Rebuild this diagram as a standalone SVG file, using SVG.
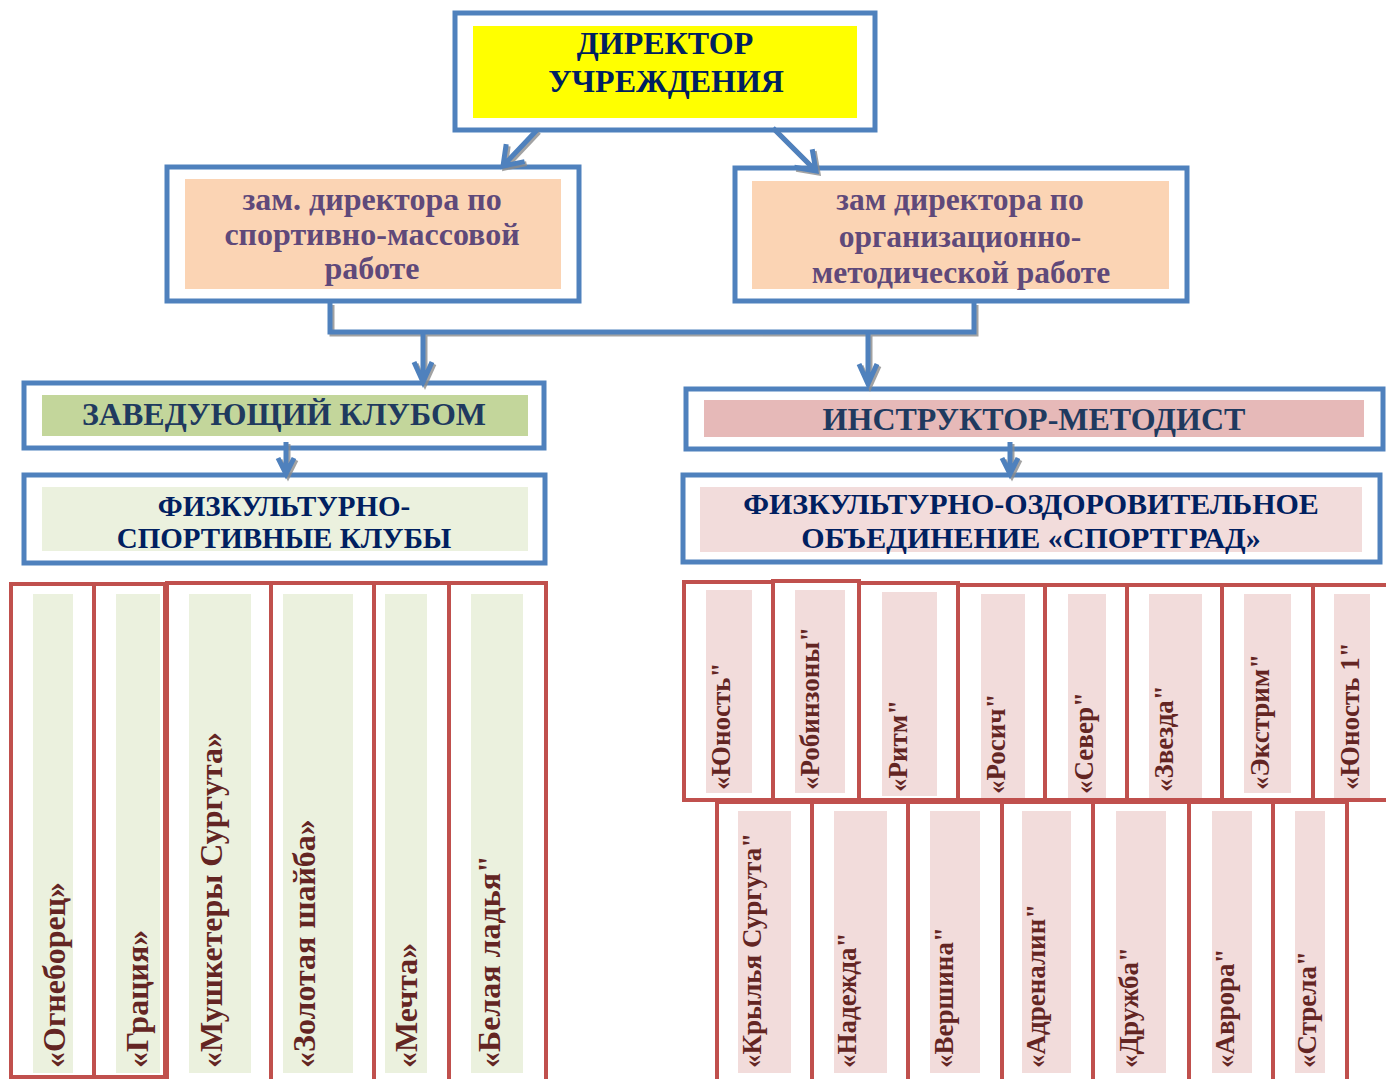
<svg xmlns="http://www.w3.org/2000/svg" width="1386" height="1079" viewBox="0 0 1386 1079">
<style>
.bx{fill:#fff;stroke:#4f81bd;stroke-width:5}
.col{fill:#fff;stroke:#c0504d;stroke-width:4}
.gin{fill:#ebf1de}
.pin{fill:#f2dcdb}
.t{font-family:"Liberation Serif","Times New Roman",serif;font-weight:bold;text-anchor:middle}
.ct{font-family:"Liberation Serif","Times New Roman",serif;font-weight:bold;fill:#632523}
.cl{font-size:32px}
.cr{font-size:27px}
.conn{fill:none;stroke:#4f81bd;stroke-width:5;stroke-linejoin:miter}
.sh{fill:none;stroke:#8c8c8c;stroke-width:5;opacity:0.8}
</style>
<rect width="1386" height="1079" fill="#fff"/>

<g id="director">
  <rect class="bx" x="455" y="13" width="420" height="117"/>
  <rect x="473" y="26" width="384" height="92" fill="#ffff00"/>
  <text class="t" x="665" y="54" font-size="32" fill="#002060">ДИРЕКТОР</text>
  <text class="t" x="666" y="92" font-size="32" fill="#002060">УЧРЕЖДЕНИЯ</text>
</g>

<g id="zam-sport">
  <rect class="bx" x="167" y="167" width="412" height="134"/>
  <rect x="185" y="179" width="376" height="110" fill="#fbd4b4"/>
  <text class="t" x="372" y="210" font-size="32" fill="#5f497a">зам. директора по</text>
  <text class="t" x="372" y="245" font-size="32" fill="#5f497a">спортивно-массовой</text>
  <text class="t" x="372" y="279" font-size="32" fill="#5f497a">работе</text>
</g>

<g id="zam-method">
  <rect class="bx" x="735" y="168" width="452" height="133"/>
  <rect x="752" y="181" width="417" height="108" fill="#fbd4b4"/>
  <text class="t" x="960" y="210" font-size="31.5" fill="#5f497a">зам директора по</text>
  <text class="t" x="960" y="247" font-size="31.5" fill="#5f497a">организационно-</text>
  <text class="t" x="961" y="283" font-size="31.5" fill="#5f497a">методической работе</text>
</g>

<g id="zav-club">
  <rect class="bx" x="24" y="383" width="520" height="65"/>
  <rect x="42" y="395" width="486" height="41" fill="#c3d69b"/>
  <text class="t" x="284" y="425" font-size="32" fill="#1f3a5f">ЗАВЕДУЮЩИЙ КЛУБОМ</text>
</g>

<g id="fiz-sport">
  <rect class="bx" x="24" y="475" width="521" height="88"/>
  <rect x="42" y="487" width="486" height="64" fill="#ebf1de"/>
  <text class="t" x="284" y="516" font-size="29" fill="#002060">ФИЗКУЛЬТУРНО-</text>
  <text class="t" x="284" y="548" font-size="29" fill="#002060">СПОРТИВНЫЕ КЛУБЫ</text>
</g>

<g id="instructor">
  <rect class="bx" x="686" y="389" width="697" height="60"/>
  <rect x="704" y="400" width="660" height="37" fill="#e6b9b8"/>
  <text class="t" x="1034" y="430" font-size="32" fill="#1f3a5f">ИНСТРУКТОР-МЕТОДИСТ</text>
</g>

<g id="sportgrad">
  <rect class="bx" x="683" y="475" width="697" height="87"/>
  <rect x="700" y="487" width="662" height="65" fill="#f2dcdb"/>
  <text class="t" x="1031" y="514" font-size="30" fill="#002060">ФИЗКУЛЬТУРНО-ОЗДОРОВИТЕЛЬНОЕ</text>
  <text class="t" x="1031" y="548" font-size="30" fill="#002060">ОБЪЕДИНЕНИЕ «СПОРТГРАД»</text>
</g>

<!-- left clubs -->
<g id="club-ogneborec">
  <rect class="col" x="11" y="584" width="83" height="493"/>
  <rect class="gin" x="33" y="594" width="40" height="479"/>
  <text class="ct cl" transform="translate(65,1068) rotate(-90)">«Огнеборец»</text>
</g>
<g id="club-gracia">
  <rect class="col" x="94" y="584" width="71" height="493"/>
  <rect class="gin" x="116" y="594" width="44" height="479"/>
  <text class="ct cl" transform="translate(148,1068) rotate(-90)">«Грация»</text>
</g>
<g id="club-mushketery">
  <rect class="col" x="167" y="583" width="104" height="510"/>
  <rect class="gin" x="189" y="594" width="62" height="479"/>
  <text class="ct cl" transform="translate(222,1068) rotate(-90)">«Мушкетеры Сургута»</text>
</g>
<g id="club-shaiba">
  <rect class="col" x="271" y="583" width="103" height="510"/>
  <rect class="gin" x="283" y="594" width="70" height="479"/>
  <text class="ct cl" transform="translate(315,1068) rotate(-90)">«Золотая шайба»</text>
</g>
<g id="club-mechta">
  <rect class="col" x="374" y="583" width="75" height="510"/>
  <rect class="gin" x="385" y="594" width="42" height="479"/>
  <text class="ct cl" transform="translate(417,1068) rotate(-90)">«Мечта»</text>
</g>
<g id="club-ladya">
  <rect class="col" x="449" y="583" width="97" height="510"/>
  <rect class="gin" x="471" y="594" width="52" height="479"/>
  <text class="ct cl" transform="translate(500,1068) rotate(-90)">«Белая ладья"</text>
</g>

<!-- right top row -->
<g id="s-yunost">
  <rect class="col" x="684" y="582" width="89" height="218"/>
  <rect class="pin" x="706" y="590" width="46" height="203"/>
  <text class="ct cr" transform="translate(730,790) rotate(-90)">«Юность"</text>
</g>
<g id="s-robinzony">
  <rect class="col" x="773" y="581" width="86" height="219"/>
  <rect class="pin" x="795" y="590" width="50" height="203"/>
  <text class="ct cr" transform="translate(819,790) rotate(-90)">«Робинзоны"</text>
</g>
<g id="s-ritm">
  <rect class="col" x="859" y="583" width="99" height="217"/>
  <rect class="pin" x="882" y="592" width="55" height="204"/>
  <text class="ct cr" transform="translate(907,792) rotate(-90)">«Ритм"</text>
</g>
<g id="s-rosich">
  <rect class="col" x="958" y="585" width="87" height="215"/>
  <rect class="pin" x="981" y="594" width="44" height="204"/>
  <text class="ct cr" transform="translate(1005,794) rotate(-90)">«Росич"</text>
</g>
<g id="s-sever">
  <rect class="col" x="1045" y="585" width="82" height="215"/>
  <rect class="pin" x="1068" y="594" width="38" height="204"/>
  <text class="ct cr" transform="translate(1093,794) rotate(-90)">«Север"</text>
</g>
<g id="s-zvezda">
  <rect class="col" x="1127" y="585" width="95" height="215"/>
  <rect class="pin" x="1149" y="594" width="53" height="204"/>
  <text class="ct cr" transform="translate(1173,792) rotate(-90)">«Звезда"</text>
</g>
<g id="s-ekstrim">
  <rect class="col" x="1222" y="585" width="91" height="215"/>
  <rect class="pin" x="1244" y="594" width="47" height="199"/>
  <text class="ct cr" transform="translate(1269,790) rotate(-90)">«Экстрим"</text>
</g>
<g id="s-yunost1">
  <rect class="col" x="1313" y="585" width="80" height="215"/>
  <rect class="pin" x="1334" y="594" width="36" height="204"/>
  <text class="ct cr" transform="translate(1359,790) rotate(-90)">«Юность 1"</text>
</g>

<!-- right bottom row -->
<g id="s-krylya">
  <rect class="col" x="717" y="802" width="95" height="290"/>
  <rect class="pin" x="738" y="811" width="53" height="262"/>
  <text class="ct cr" transform="translate(761,1068) rotate(-90)">«Крылья  Сургута"</text>
</g>
<g id="s-nadezhda">
  <rect class="col" x="812" y="802" width="96" height="290"/>
  <rect class="pin" x="834" y="811" width="53" height="262"/>
  <text class="ct cr" transform="translate(856,1068) rotate(-90)">«Надежда"</text>
</g>
<g id="s-vershina">
  <rect class="col" x="908" y="802" width="94" height="290"/>
  <rect class="pin" x="930" y="811" width="50" height="262"/>
  <text class="ct cr" transform="translate(953,1068) rotate(-90)">«Вершина"</text>
</g>
<g id="s-adrenalin">
  <rect class="col" x="1002" y="802" width="91" height="290"/>
  <rect class="pin" x="1022" y="811" width="49" height="262"/>
  <text class="ct cr" transform="translate(1045,1068) rotate(-90)">«Адреналин"</text>
</g>
<g id="s-druzhba">
  <rect class="col" x="1093" y="802" width="96" height="290"/>
  <rect class="pin" x="1116" y="811" width="50" height="262"/>
  <text class="ct cr" transform="translate(1138,1068) rotate(-90)">«Дружба"</text>
</g>
<g id="s-avrora">
  <rect class="col" x="1189" y="802" width="84" height="290"/>
  <rect class="pin" x="1212" y="811" width="40" height="262"/>
  <text class="ct cr" transform="translate(1234,1068) rotate(-90)">«Аврора"</text>
</g>
<g id="s-strela">
  <rect class="col" x="1273" y="802" width="74" height="290"/>
  <rect class="pin" x="1295" y="811" width="30" height="262"/>
  <text class="ct cr" transform="translate(1316,1068) rotate(-90)">«Стрела"</text>
</g>

<g id="connectors">
  <g transform="translate(2,2)" class="sh">
    <path d="M537,130 L503,166 M524.6,161.6 L503,166 L506.2,144.2"/>
    <path d="M773,128 L816,171 M812.2,149.3 L816,171 L794.3,167.2"/>
    <path d="M330,303 L330,332 L974,332 L974,303"/>
    <path d="M423,332 L423,382 M414,362 L423,382 L432,362"/>
    <path d="M868,332 L868,384 M859,364 L868,384 L877,364"/>
    <path d="M286,442 L286,474 M278,458 L286,474 L294,458"/>
    <path d="M1010,442 L1010,474 M1002,458 L1010,474 L1018,458"/>
  </g>
  <path class="conn" d="M537,130 L503,166 M524.6,161.6 L503,166 L506.2,144.2"/>
  <path class="conn" d="M773,128 L816,171 M812.2,149.3 L816,171 L794.3,167.2"/>
  <path class="conn" d="M330,303 L330,332 L974,332 L974,303"/>
  <path class="conn" d="M423,332 L423,382 M414,362 L423,382 L432,362"/>
  <path class="conn" d="M868,332 L868,384 M859,364 L868,384 L877,364"/>
  <path class="conn" d="M286,442 L286,474 M278,458 L286,474 L294,458"/>
  <path class="conn" d="M1010,442 L1010,474 M1002,458 L1010,474 L1018,458"/>
</g>
</svg>
